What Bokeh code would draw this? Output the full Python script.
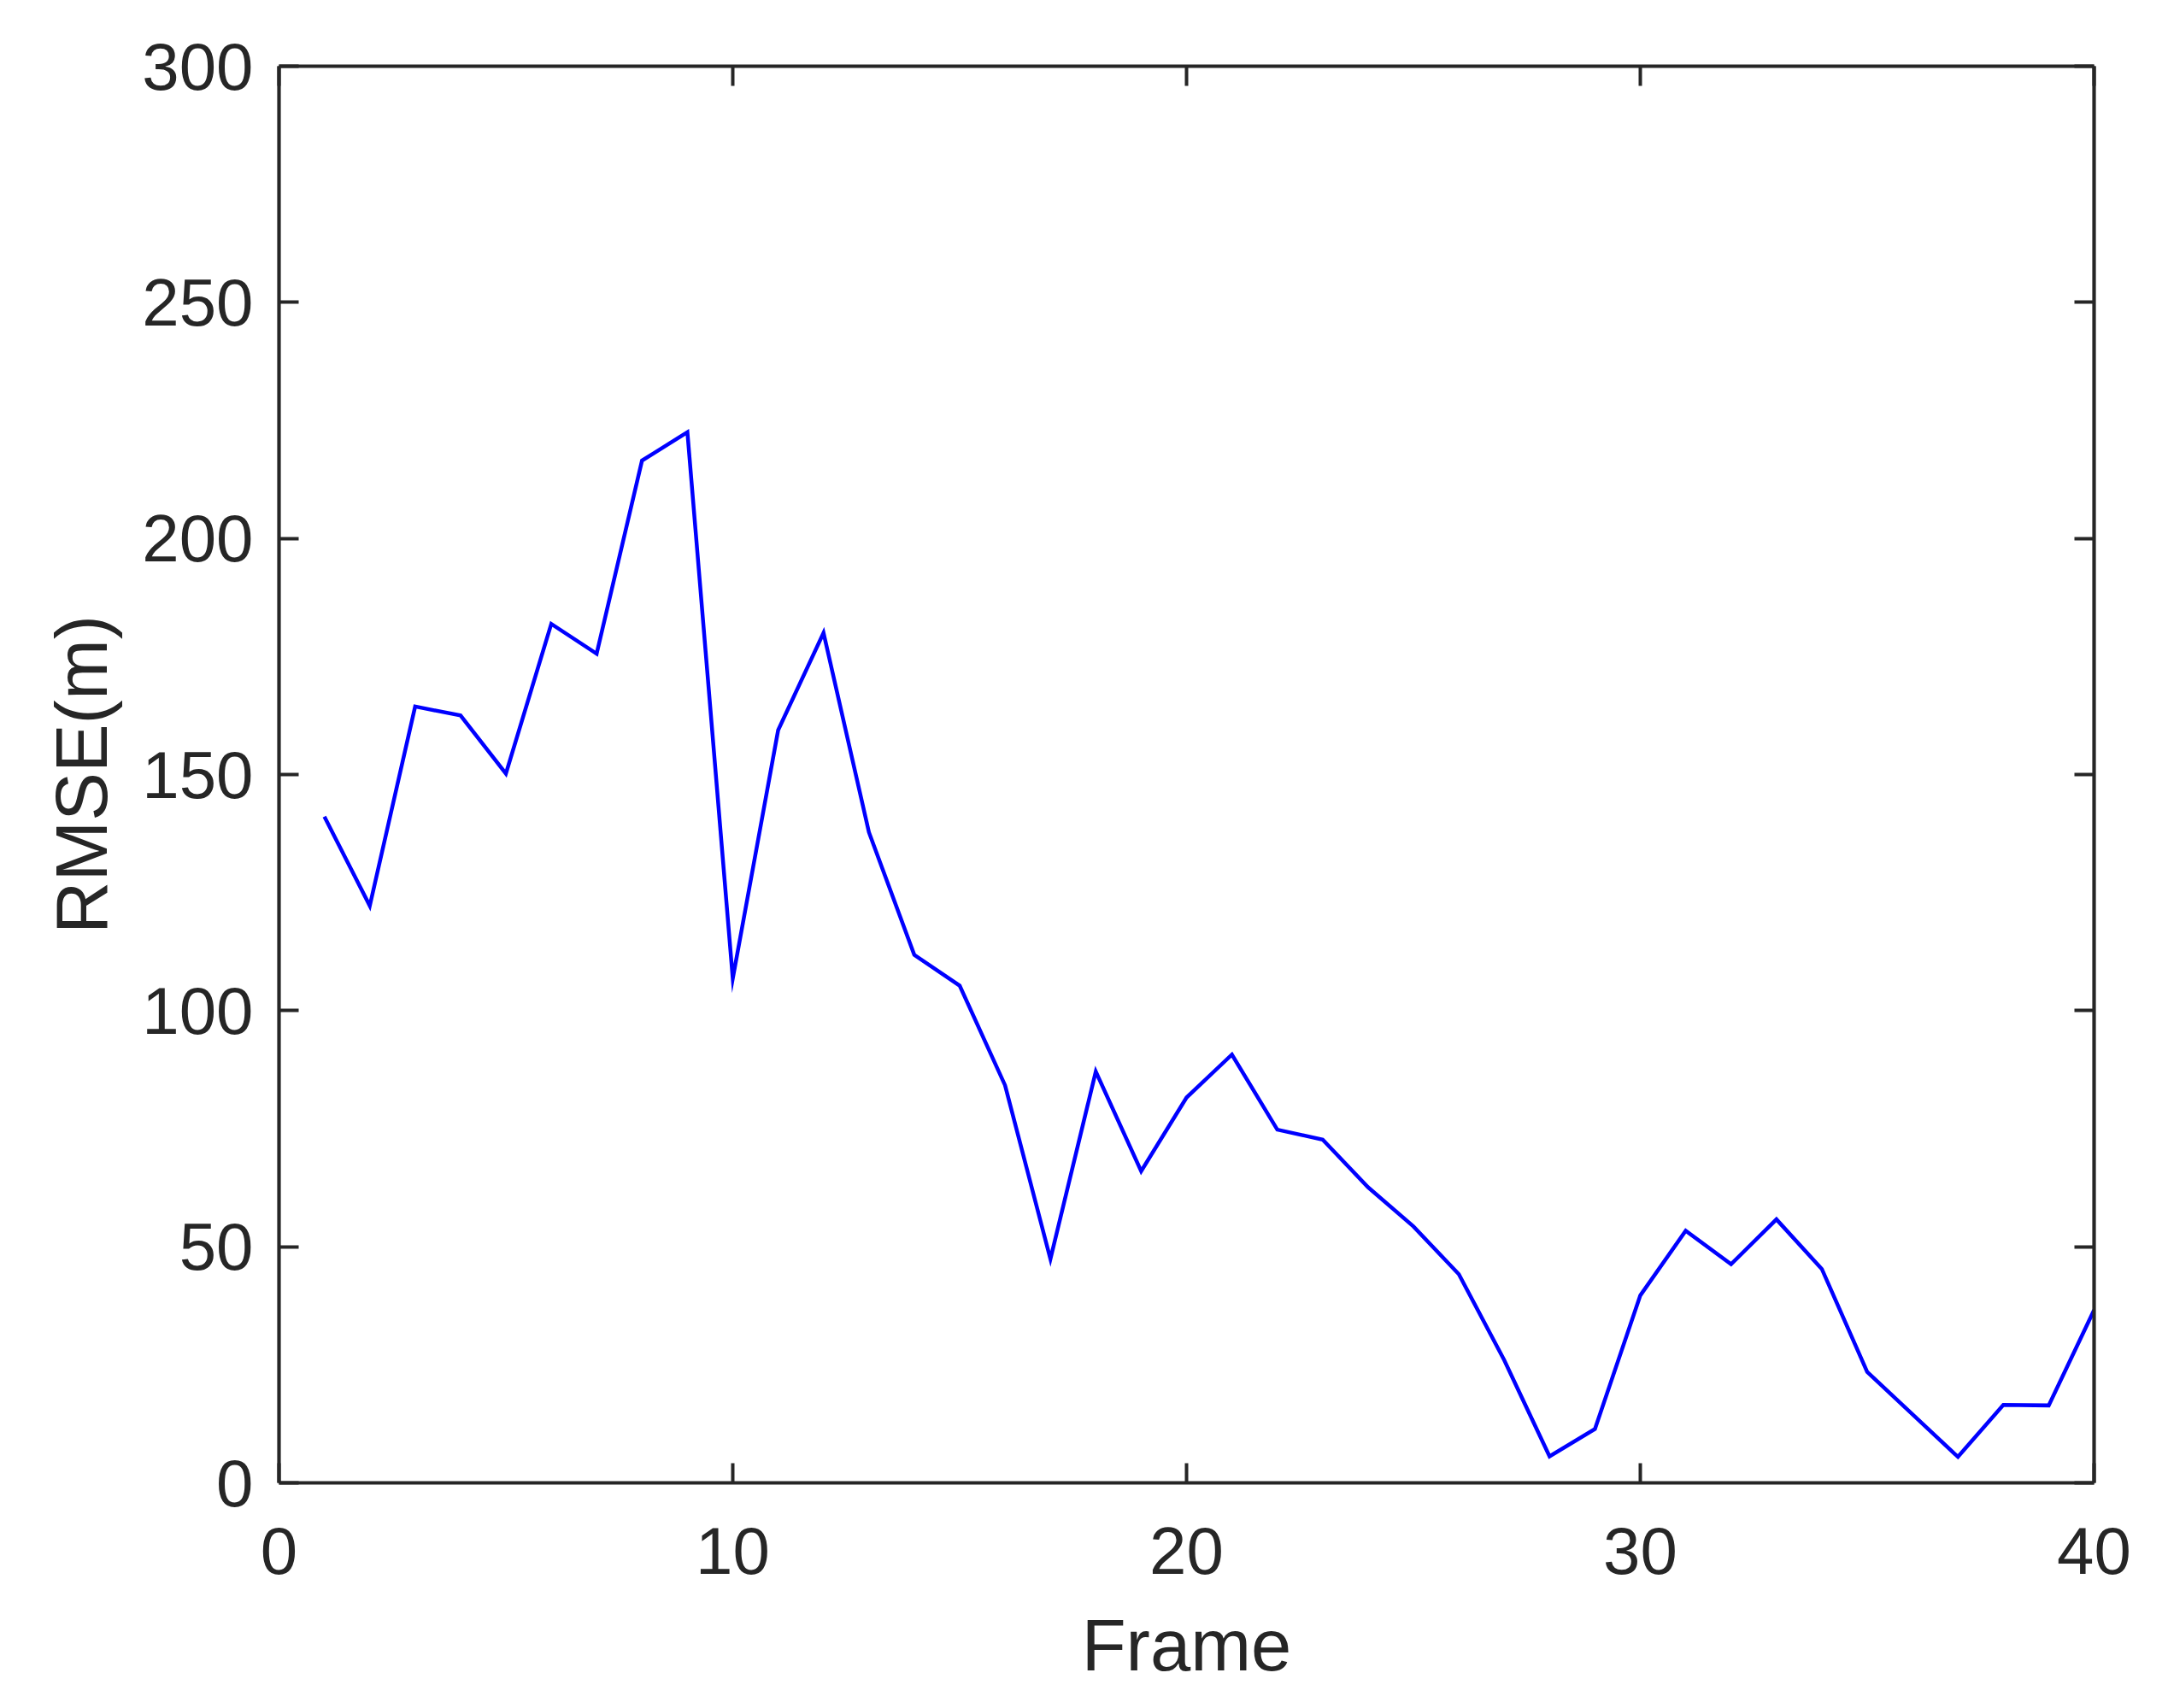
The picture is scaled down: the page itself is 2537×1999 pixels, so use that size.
from bokeh.plotting import figure
from bokeh.models import Range1d, LinearAxis, FixedTicker
from bokeh.embed import file_html
from bokeh.resources import INLINE

frames = list(range(1, 41))
rmse = [141.1, 122.2, 164.4, 162.5, 150.2, 181.9, 175.6, 216.5, 222.5, 106.8,
        159.4, 180.0, 137.8, 111.8, 105.3, 84.2, 47.4, 87.1, 66.0, 81.6,
        90.7, 74.8, 72.7, 62.6, 54.3, 44.2, 26.0, 5.6, 11.4, 39.7,
        53.4, 46.3, 55.8, 45.3, 23.5, 14.5, 5.5, 16.5, 16.4, 36.6]
x_ticks = [0, 10, 20, 30, 40]
y_ticks = [0, 50, 100, 150, 200, 250, 300]
x_label = "Frame"
y_label = "RMSE(m)"

FONT = "Liberation Sans"
DARK = "#262626"
TICK_FS = "78px"
LABEL_FS = "85px"

p = figure(frame_width=2124, frame_height=1658,
           x_range=Range1d(0, 40), y_range=Range1d(0, 300),
           output_backend="svg", toolbar_location=None,
           x_axis_label=x_label, y_axis_label=y_label,
           min_border_left=326, min_border_top=77,
           min_border_right=71, min_border_bottom=248)
p.outline_line_color = None
p.grid.visible = False
p.background_fill_color = "white"
p.border_fill_color = "white"

p.line(frames, rmse, line_color="#0000FF", line_width=4.5, line_join="miter")

# extra axes to close the box (MATLAB "box on")
p.add_layout(LinearAxis(), "above")
p.add_layout(LinearAxis(), "right")

for ax in p.xaxis:
    ax.ticker = FixedTicker(ticks=x_ticks)
for ax in p.yaxis:
    ax.ticker = FixedTicker(ticks=y_ticks)

for ax in p.axis:
    ax.axis_line_color = DARK
    ax.axis_line_width = 4.2
    ax.major_tick_line_color = DARK
    ax.major_tick_line_width = 4
    ax.major_tick_in = 23
    ax.major_tick_out = 0
    ax.minor_tick_line_color = None
    ax.major_label_text_font = FONT
    ax.major_label_text_font_size = TICK_FS
    ax.major_label_text_color = DARK
    ax.axis_label_text_font = FONT
    ax.axis_label_text_font_size = LABEL_FS
    ax.axis_label_text_color = DARK
    ax.axis_label_text_font_style = "normal"

p.above[0].major_label_overrides = {t: "" for t in x_ticks}
p.right[0].major_label_overrides = {t: "" for t in y_ticks}

p.below[0].major_label_standoff = 52
p.below[0].axis_label_standoff = 33
p.left[0].major_label_standoff = 30
p.left[0].axis_label_standoff = 20

open("out.html", "w").write(file_html(p, INLINE))
